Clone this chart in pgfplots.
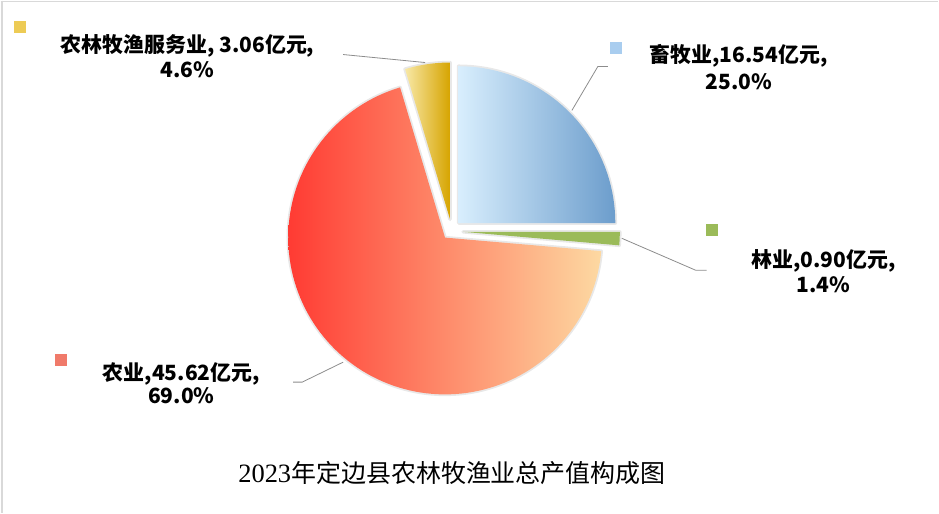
\documentclass[border=0pt]{standalone}
\usepackage{fontspec}
\usepackage{pgfplots}
\pgfplotsset{compat=1.18}
\newfontfamily\cjk{Noto Sans CJK SC}
\newfontfamily\serifnum{Liberation Serif}
\definecolor{redL}{HTML}{FF3B33}
\definecolor{redM}{HTML}{F07A6A}
\definecolor{redR}{HTML}{FDD9A2}
\definecolor{blueL}{HTML}{D8EEFD}
\definecolor{blueM}{HTML}{A9CDEF}
\definecolor{blueR}{HTML}{6C9DCC}
\definecolor{yelL}{HTML}{F8E8A6}
\definecolor{yelM}{HTML}{EDCB55}
\definecolor{yelR}{HTML}{D6A400}
\definecolor{grn}{HTML}{9BBB59}
\definecolor{lead}{HTML}{8C8C8C}
% values (亿元)
\def\vA{16.54}% 畜牧业
\def\vB{0.90}%  林业
\def\vC{45.62}% 农业
\def\vD{3.06}%  农林牧渔服务业
\pgfmathsetmacro\tot{\vA+\vB+\vC+\vD}
\pgfmathsetmacro\aA{90-360*(\vA/\tot)}
\pgfmathsetmacro\aB{\aA-360*(\vB/\tot)}
\pgfmathsetmacro\aC{\aB-360*(\vC/\tot)}
\def\R{157}
% #1 cx, #2 cy, #3 start, #4 end, #5 style, #6 samples
\newcommand\slice[6]{%
  \addplot[draw=black!9, line width=3.5pt, domain=#3:#4, samples=#6, line join=round]
    ({#1+\R*cos(x)},{#2-\R*sin(x)}) -- (#1,#2) -- cycle;
  \addplot[draw=none, #5, domain=#3:#4, samples=#6]
    ({#1+\R*cos(x)},{#2-\R*sin(x)}) -- (#1,#2) -- cycle;
}
\begin{document}
\begin{tikzpicture}
\begin{axis}[width=939pt, height=513pt, scale only axis,
  xmin=0, xmax=939, ymin=0, ymax=513, y dir=reverse,
  hide axis, clip=false]
\addplot[draw=none] coordinates {(0,0) (939,513)};
% frame lines
\addplot[color=black!15, line width=1.2pt] coordinates {(0,0.6) (939,0.6)};
\addplot[color=black!15, line width=1.2pt] coordinates {(1.5,0) (1.5,513)};
% slices
\slice{445}{237.3}{\aC}{\aB}{left color=redL, middle color=redM, right color=redR}{120}
\slice{458.5}{222.7}{\aA}{90}{left color=blueL, middle color=blueM, right color=blueR}{40}
\slice{463}{231.5}{\aB}{\aA}{fill=grn}{10}
\slice{450}{219}{-270}{\aC}{left color=yelL, middle color=yelM, right color=yelR}{20}
% leader lines
\addplot[lead, line width=0.8pt] coordinates {(343,54) (425,62)};
\addplot[lead, line width=0.8pt] coordinates {(572,110) (598,66) (608,66)};
\addplot[lead, line width=0.8pt] coordinates {(622,238) (696,270) (707,270)};
\addplot[lead, line width=0.8pt] coordinates {(343,362) (302,382) (293,382)};
% label keys
\addplot[only marks, mark=square*, mark size=5.5pt, color=yelM] coordinates {(19,26)};
\addplot[only marks, mark=square*, mark size=5.5pt, color=blueM] coordinates {(616,47)};
\addplot[only marks, mark=square*, mark size=5.5pt, color=grn] coordinates {(712,229)};
\addplot[only marks, mark=square*, mark size=5.5pt, color=redM] coordinates {(60,360)};
% labels
\node[align=center, font=\cjk\bfseries\fontsize{21}{25.5}\selectfont] at (axis cs:187,55.5) {农林牧渔服务业, 3.06亿元,\\4.6\%};
\node[align=center, font=\cjk\bfseries\fontsize{21}{27}\selectfont] at (axis cs:739,66.5) {畜牧业,16.54亿元,\\25.0\%};
\node[align=center, font=\cjk\bfseries\fontsize{21}{25}\selectfont] at (axis cs:824,270.5) {林业,0.90亿元,\\1.4\%};
\node[align=center, font=\cjk\bfseries\fontsize{21}{23}\selectfont] at (axis cs:181,383.5) {农业,45.62亿元,\\69.0\%};
% title
\node[font=\cjk\fontsize{25}{30}\selectfont] at (axis cs:452,473) {{\serifnum\fontsize{26.5}{30}\selectfont 2023}年定边县农林牧渔业总产值构成图};
\end{axis}
\end{tikzpicture}
\end{document}
